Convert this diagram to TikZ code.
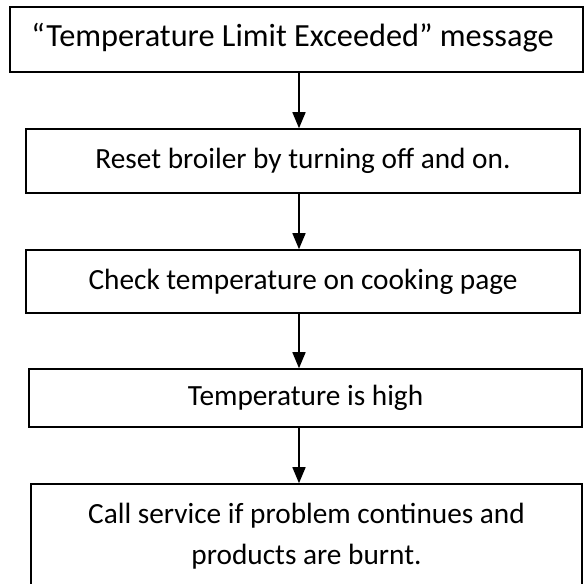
\documentclass[tikz,border=0pt]{standalone}
\usepackage{fontspec}
\setmainfont{Carlito}
\usetikzlibrary{arrows.meta}
\tikzset{
  flowbox/.style={draw=black, line width=1.6pt, fill=white, inner sep=0pt,
    font=\fontsize{29.3}{41}\selectfont, align=center, anchor=center},
  flowarrow/.style={line width=1.6pt, -{Triangle[width=13pt,length=16pt]}}
}
\begin{document}
\begin{tikzpicture}[x=1pt,y=1pt]
\useasboundingbox (0,0) rectangle (584,584);
\node[flowbox, minimum width=573pt, minimum height=65pt] (b1) at (296.5,544.5) {};
\node[font=\fontsize{32.3}{40}\selectfont, inner sep=0pt] (t1) at ([xshift=-4pt,yshift=2pt]b1.center) {“Temperature Limit Exceeded” message};
\node[flowbox, minimum width=554pt, minimum height=64pt] (b2) at (303,423) {Reset broiler by turning off and on.};
\node[flowbox, minimum width=554pt, minimum height=63pt] (b3) at (303,302.5) {Check temperature on cooking page};
\node[flowbox, minimum width=553pt, minimum height=58pt] (b4) at (305.5,186) {Temperature is high};
\node[flowbox, minimum width=551pt, minimum height=104pt] (b5) at (306.5,48) {Call service if problem continues and\\products are burnt.};
\coordinate (ax) at (299,0);
\draw[flowarrow] (b1.south -| ax) -- (b2.north -| ax);
\draw[flowarrow] (b2.south -| ax) -- (b3.north -| ax);
\draw[flowarrow] (b3.south -| ax) -- (b4.north -| ax);
\draw[flowarrow] (b4.south -| ax) -- (b5.north -| ax);
\end{tikzpicture}
\end{document}
